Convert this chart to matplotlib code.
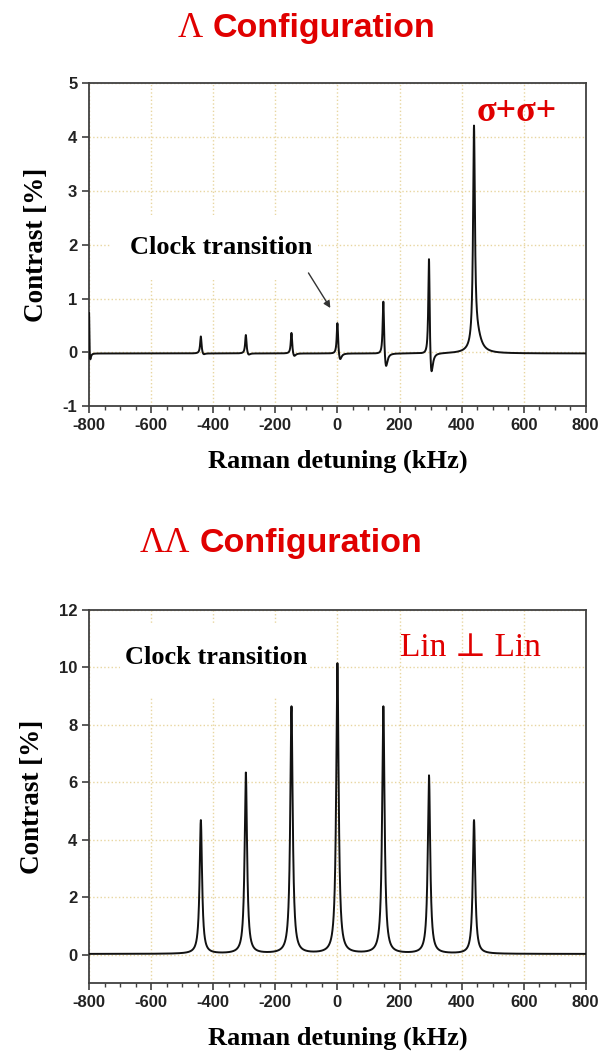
import numpy as np
import matplotlib.pyplot as plt
from matplotlib.patches import Rectangle
from matplotlib.ticker import MultipleLocator

plt.rcParams['axes.unicode_minus'] = False

# Pics (kHz, contraste en %)
top_centers = [-800, -440, -295, -148, 0, 148, 295, 440]
top_peaks = [0.85, 0.33, 0.36, 0.41, 0.62, 1.08, 1.98, 4.02]
top_widths = [1.2, 2.7, 2.7, 2.7, 2.7, 2.7, 2.7, 3.5]
top_dips = [0.2, 0.04, 0.05, 0.08, 0.16, 0.33, 0.55, 0.0]
top_dip_shift = [3, 8, 8, 8, 8, 8, 7, 8]
top_dip_width = [3, 6, 6, 6, 6, 6, 6, 6]
top_tail = (450, 16, 0.3)
top_base = -0.02

bot_centers = [-440, -295, -148, 0, 148, 295, 440]
bot_peaks = [4.65, 6.3, 8.6, 10.1, 8.6, 6.2, 4.65]
bot_width = 4.7
bot_base = 0.02

x_ticks = [-800, -600, -400, -200, 0, 200, 400, 600, 800]
top_yticks = [-1, 0, 1, 2, 3, 4, 5]
bot_yticks = [0, 2, 4, 6, 8, 10, 12]

red = '#e00000'
grid_col = '#e8d6a0'
spine_col = '#404040'
serif = ['Liberation Serif', 'DejaVu Serif']
sans = ['Liberation Sans', 'DejaVu Sans']


def lorentz(x, c, g):
    return g**2 / ((x - c)**2 + g**2)


x = np.linspace(-800, 800, 8001)

y_top = np.full_like(x, top_base)
for c, a, g, b, s, gd in zip(top_centers, top_peaks, top_widths, top_dips,
                             top_dip_shift, top_dip_width):
    y_top += a * lorentz(x, c, g) - b * lorentz(x, c + s, gd)
y_top += top_tail[2] * lorentz(x, top_tail[0], top_tail[1])

y_bot = np.full_like(x, bot_base)
for c, a in zip(bot_centers, bot_peaks):
    y_bot += a * lorentz(x, c, bot_width)

fig = plt.figure(figsize=(6.02, 10.55), dpi=100)
ax1 = fig.add_axes([0.148, 0.615, 0.825, 0.306])
ax2 = fig.add_axes([0.148, 0.068, 0.825, 0.354])


def style(ax, yticks, ylim):
    ax.set_xlim(-800, 800)
    ax.set_ylim(*ylim)
    ax.set_xticks(x_ticks)
    ax.set_yticks(yticks)
    ax.xaxis.set_minor_locator(MultipleLocator(50))
    ax.grid(True, which='major', color=grid_col, linestyle=':', linewidth=1.0)
    ax.set_axisbelow(True)
    for sp in ax.spines.values():
        sp.set_color(spine_col)
        sp.set_linewidth(1.3)
    ax.tick_params(which='major', direction='out', length=5, width=1.2,
                   color=spine_col, labelsize=12, labelcolor='#222222')
    ax.tick_params(which='minor', direction='out', length=3, width=1.0,
                   color=spine_col)
    for lab in ax.get_xticklabels() + ax.get_yticklabels():
        lab.set_fontfamily(sans)
        lab.set_fontweight('bold')
    ax.set_xlabel('Raman detuning (kHz)', fontsize=19, fontweight='bold',
                  family=serif, labelpad=12)
    ax.set_ylabel('Contrast [%]', fontsize=19.5, fontweight='bold',
                  family=serif, labelpad=10)


style(ax1, top_yticks, (-1, 5))
style(ax2, bot_yticks, (-1, 12))

ax1.plot(x, y_top, color='#111111', lw=1.4, zorder=3)
ax2.plot(x, y_bot, color='#111111', lw=1.4, zorder=3)

# zones blanches derrière les textes (la grille y est masquée)
ax1.add_patch(Rectangle((-732, 1.34), 669, 1.21, facecolor='white',
                        edgecolor='none', zorder=1.5))
ax2.add_patch(Rectangle((-700, 8.97), 612, 2.51, facecolor='white',
                        edgecolor='none', zorder=1.5))

ax1.text(-375, 1.95, 'Clock transition', ha='center', va='center',
         fontsize=19, fontweight='bold', family=serif, zorder=4)
ax1.annotate('', xy=(-18, 0.78), xytext=(-98, 1.52),
             arrowprops=dict(arrowstyle='-|>', color='#333333', lw=1.0,
                             mutation_scale=10))
ax1.text(578, 4.46, r'σ+σ+', ha='center', va='center', fontsize=26,
         color=red, family=serif, fontweight='bold', zorder=4)

ax2.text(-391, 10.33, 'Clock transition', ha='center', va='center',
         fontsize=19, fontweight='bold', family=serif, zorder=4)
ax2.text(427, 10.68, 'Lin ⊥ Lin', ha='center', va='center', fontsize=24,
         color=red, family=serif, zorder=4)

# Titres
fig.text(213 / 602, 1 - 37 / 1055, 'Configuration', ha='left', va='baseline',
         fontsize=24.5, fontweight='bold', family=sans, color=red)
fig.text(203 / 602, 1 - 37 / 1055, 'Λ', ha='right', va='baseline',
         fontsize=25, family=serif, color=red)
fig.text(200 / 602, 1 - 552 / 1055, 'Configuration', ha='left',
         va='baseline', fontsize=24.5, fontweight='bold', family=sans,
         color=red)
fig.text(190 / 602, 1 - 552 / 1055, 'ΛΛ', ha='right', va='baseline',
         fontsize=25, family=serif, color=red)

fig.savefig('out.png', dpi=100)
